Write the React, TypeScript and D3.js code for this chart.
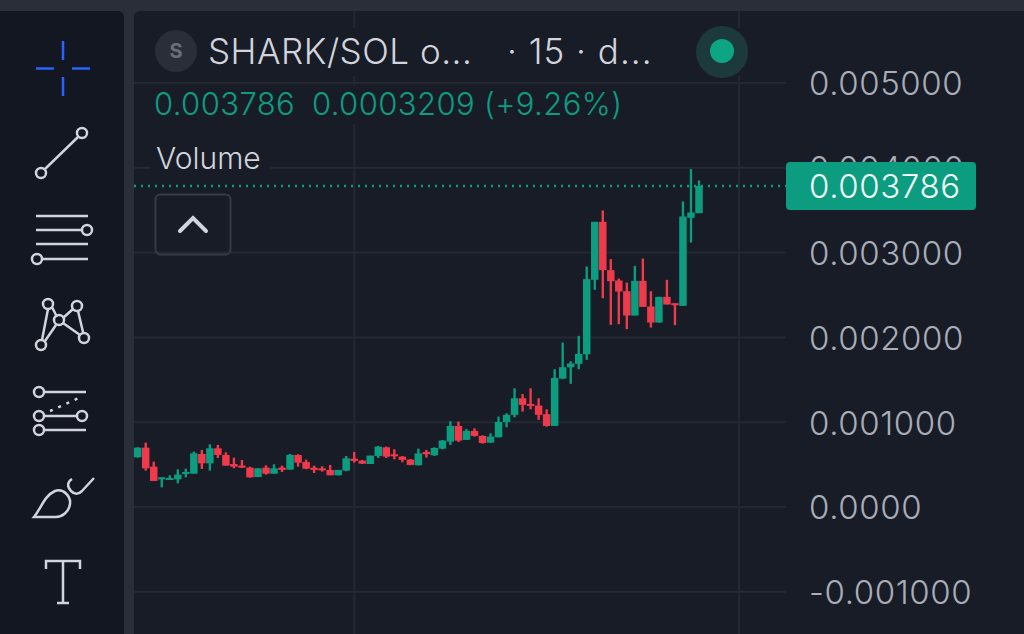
import React, { useEffect, useRef } from 'react';
import * as d3 from 'd3';

// prices are kept in millionths of SOL
const opens = [
  586, 700, 476, 327, 327, 327, 389, 393, 625, 515, 692, 614, 507, 488, 464, 354, 464, 393, 464, 441, 614, 531, 464, 456,
  437, 374, 429, 570, 547, 507, 602, 704, 622, 594, 559, 492, 649, 610, 688, 771, 956, 791, 897, 838, 759, 822, 1003, 1086,
  1282, 1215, 1196, 1094, 956, 1515, 1648, 1688, 1802, 2679, 3363, 2793, 2671, 2545, 2258, 2667, 2364, 2175, 2478, 2403,
  2372, 3410, 3465,
];
const highs = [
  705, 759, 535, 350, 374, 445, 452, 653, 673, 740, 732, 645, 582, 555, 476, 456, 492, 504, 488, 625, 621, 559, 488, 480,
  496, 437, 602, 649, 555, 606, 720, 712, 681, 602, 566, 688, 673, 704, 791, 1011, 1007, 920, 928, 846, 869, 1066, 1105, 1400,
  1333, 1400, 1282, 1152, 1625, 1939, 1719, 2018, 2836, 3363, 3497, 2923, 2694, 2647, 2844, 2930, 2545, 2478, 2679, 2403,
  3603, 3985, 3851,
];
const lows = [
  582, 429, 307, 232, 327, 279, 350, 393, 449, 429, 578, 488, 456, 460, 346, 354, 382, 393, 413, 441, 476, 445, 401, 417,
  374, 374, 421, 523, 507, 507, 578, 578, 563, 527, 492, 492, 582, 602, 681, 732, 767, 791, 830, 747, 759, 822, 940, 1058,
  1125, 1152, 1027, 948, 956, 1507, 1452, 1625, 1735, 2561, 2462, 2148, 2156, 2097, 2258, 2360, 2116, 2175, 2388, 2144,
  2372, 3119, 3465,
];
const closes = [
  700, 456, 307, 350, 342, 382, 413, 633, 515, 692, 614, 488, 476, 468, 350, 456, 393, 456, 437, 614, 523, 452, 437, 433,
  374, 437, 574, 543, 511, 606, 712, 594, 602, 555, 496, 633, 622, 696, 783, 956, 783, 897, 838, 755, 830, 1003, 1086, 1282,
  1204, 1200, 1086, 956, 1522, 1648, 1692, 1806, 2687, 3363, 2793, 2663, 2541, 2258, 2667, 2360, 2175, 2478, 2388, 2380,
  3426, 3473, 3786,
];
const yTicks = [5000, 4000, 3000, 2000, 1000, 0, -1000];
const xGridBars = [27, 75];
const lastPrice = 3786;

const GREEN = '#0c9c80';
const RED = '#ee3a4b';
const ICON = '#d1d4dc';
const FONT = 'Inter, sans-serif';

function App() {
  const ref = useRef<SVGSVGElement>(null);

  useEffect(() => {
    const svg = d3.select(ref.current);
    svg.selectAll('*').remove();

    const x = d3.scaleLinear().domain([0, 70]).range([137.7, 699]);
    const y = d3.scaleLinear().domain([0, 5000]).range([507, 83]);

    // background panels
    svg.append('rect').attr('width', 1024).attr('height', 634).attr('fill', '#2a2e39');
    svg.append('rect').attr('x', -10).attr('y', 11).attr('width', 134).attr('height', 640).attr('rx', 6).attr('fill', '#131722');
    svg.append('rect').attr('x', 134).attr('y', 11).attr('width', 900).attr('height', 640).attr('rx', 6).attr('fill', '#181c27');

    // grid
    const grid = svg.append('g').attr('stroke', '#242833').attr('stroke-width', 2);
    grid.selectAll('.h').data(yTicks).enter().append('line')
      .attr('x1', 134).attr('x2', 786)
      .attr('y1', d => y(d)).attr('y2', d => y(d));
    grid.selectAll('.v').data(xGridBars).enter().append('line')
      .attr('x1', d => x(d)).attr('x2', d => x(d))
      .attr('y1', 11).attr('y2', 634);

    // legend backing hides the grid behind the header text
    const backs = [[152, 28, 600, 48], [150, 86, 475, 38], [150, 140, 120, 36]];
    svg.selectAll('.back').data(backs).enter().append('rect')
      .attr('x', d => d[0]).attr('y', d => d[1]).attr('width', d => d[2]).attr('height', d => d[3])
      .attr('fill', '#181c27');

    // candles
    const candles = svg.append('g');
    opens.forEach((o, i) => {
      const c = closes[i];
      const color = c >= o ? GREEN : RED;
      candles.append('line')
        .attr('x1', x(i)).attr('x2', x(i))
        .attr('y1', y(highs[i])).attr('y2', y(lows[i]))
        .attr('stroke', color).attr('stroke-width', 2.4);
      candles.append('rect')
        .attr('x', x(i) - 3.75).attr('width', 7.5)
        .attr('y', y(Math.max(o, c)))
        .attr('height', Math.max(2, Math.abs(y(o) - y(c))))
        .attr('fill', color);
    });

    // last price line
    svg.append('line')
      .attr('x1', 134).attr('x2', 786)
      .attr('y1', y(lastPrice)).attr('y2', y(lastPrice))
      .attr('stroke', GREEN).attr('stroke-width', 2.4).attr('stroke-dasharray', '2 5');

    // price axis
    const axis = svg.append('g')
      .attr('transform', 'translate(809,0)')
      .call(d3.axisRight(y).tickValues(yTicks).tickSize(0).tickPadding(0)
        .tickFormat(d => (+d / 1e6).toFixed(+d === 0 ? 4 : 6)));
    axis.select('.domain').remove();
    axis.selectAll('text')
      .attr('font-family', FONT).attr('font-size', 33).attr('font-weight', 300)
      .attr('letter-spacing', 0.6)
      .attr('fill', '#a9adb7').attr('dy', '0.36em');

    svg.append('rect').attr('x', 786).attr('y', 162).attr('width', 190).attr('height', 48).attr('rx', 4).attr('fill', GREEN);
    svg.append('text').attr('x', 809).attr('y', y(lastPrice)).attr('dy', '0.36em')
      .attr('font-family', FONT).attr('font-size', 33).attr('font-weight', 300)
      .attr('letter-spacing', 0.6).attr('fill', '#f2fbf9')
      .text((lastPrice / 1e6).toFixed(6));

    // header
    svg.append('circle').attr('cx', 176).attr('cy', 51).attr('r', 21).attr('fill', '#2a2e39');
    svg.append('text').attr('x', 176).attr('y', 58).attr('text-anchor', 'middle')
      .attr('font-family', FONT).attr('font-size', 20).attr('font-weight', 700).attr('fill', '#6a6e79').text('S');
    const title = (tx: number, s: string, sp: number) => svg.append('text').attr('x', tx).attr('y', 64)
      .attr('font-family', FONT).attr('font-size', 35).attr('font-weight', 300)
      .attr('letter-spacing', sp).attr('fill', '#d1d4dc').text(s);
    title(208, 'SHARK/SOL o...', 0.5);
    title(507, '· 15 · d...', 1);

    svg.append('circle').attr('cx', 722).attr('cy', 52).attr('r', 26).attr('fill', '#1c3a3c');
    svg.append('circle').attr('cx', 722).attr('cy', 51).attr('r', 12).attr('fill', '#0ea584');

    const quote = (tx: number, s: string) => svg.append('text').attr('x', tx).attr('y', 115)
      .attr('font-family', FONT).attr('font-size', 31).attr('font-weight', 300)
      .attr('letter-spacing', 0.4).attr('fill', GREEN).text(s);
    quote(154, '0.003786');
    quote(312, '0.0003209');
    quote(484, '(+9.26%)');

    svg.append('text').attr('x', 156).attr('y', 169)
      .attr('font-family', FONT).attr('font-size', 30).attr('font-weight', 300).attr('fill', '#d1d4dc').text('Volume');

    svg.append('rect').attr('x', 155.5).attr('y', 194.5).attr('width', 75).attr('height', 60).attr('rx', 5)
      .attr('fill', 'none').attr('stroke', '#363a45').attr('stroke-width', 2);
    svg.append('path').attr('d', 'M180,231 L193,218 L206,231')
      .attr('fill', 'none').attr('stroke', ICON).attr('stroke-width', 4).attr('stroke-linecap', 'round');

    // toolbar icons
    const icons = svg.append('g').attr('fill', 'none').attr('stroke', ICON).attr('stroke-width', 2.5);
    const path = (d: string) => icons.append('path').attr('d', d);
    const ring = (cx: number, cy: number) => icons.append('circle').attr('cx', cx).attr('cy', cy).attr('r', 5);

    svg.append('path').attr('d', 'M63,41V60 M63,77V96 M36,68.5H54 M72,68.5H90')
      .attr('fill', 'none').attr('stroke', '#2962ff').attr('stroke-width', 2.5);

    path('M45,169 L78,137');
    ring(41, 173); ring(82, 133);

    path('M36,216H88 M36,230H82 M36,244H88 M42,259H88');
    ring(87, 230); ring(37, 259);

    path('M42,340 L48,309 M52,307 L57,317 M63,318 L73,309 M78,311 L83,332 M45,341 L56,325 M63,323 L80,335');
    ring(41, 345); ring(48, 304); ring(77, 306); ring(59, 320); ring(84, 338);

    path('M44,392H86 M44,416H77 M44,430H86');
    ring(39, 392); ring(39, 416); ring(82, 416); ring(39, 430);
    path('M50,411 L81,397').attr('stroke-dasharray', '3 6');

    path('M34,517 C42,507 44,496 55,491 C64,488 71,497 70,504 C69,512 62,517 56,517 Z');
    path('M72,479 C67,482 67,487 71,491 C75,495 79,494 82,491 L94,478');

    path('M46,569V561H80V569 M63,561V603 M57,603H69');
  }, []);

  return <svg ref={ref} width={1024} height={634} style={{ position: 'absolute', left: 0, top: 0, display: 'block' }} />;
}

export default App;
